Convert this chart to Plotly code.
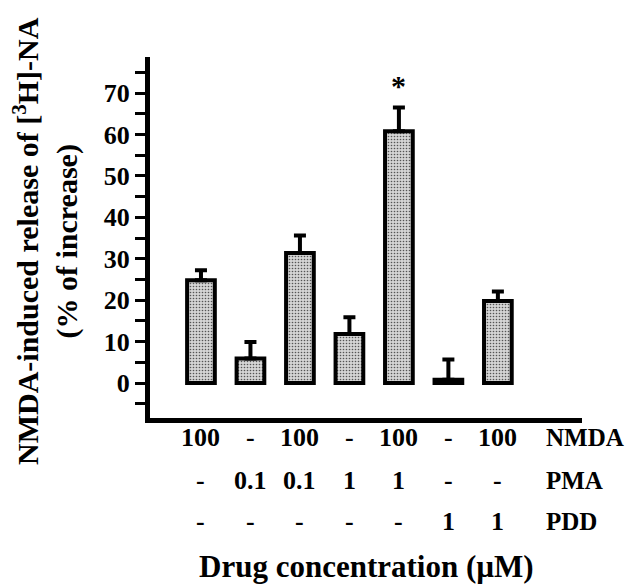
import plotly.graph_objects as go

# ---- data ----
groups = [0, 1, 2, 3, 4, 5, 6]
release = [24.8, 5.9, 31.4, 11.8, 60.8, 0.8, 19.8]
sem = [2.4, 4.0, 4.2, 4.1, 5.7, 4.9, 2.3]
nmda_row = ["100", "-", "100", "-", "100", "-", "100"]
pma_row = ["-", "0.1", "0.1", "1", "1", "-", "-"]
pdd_row = ["-", "-", "-", "-", "-", "1", "1"]
row_names = ["NMDA", "PMA", "PDD"]
signif = ["", "", "", "", "*", "", ""]

FONT = "Liberation Serif"

fig = go.Figure()
fig.add_trace(go.Bar(
    x=groups, y=release, width=0.56,
    marker=dict(color="#cfcfcf",
                line=dict(color="black", width=4),
                pattern=dict(shape=".", bgcolor="#d4d4d4", fgcolor="#555555",
                             size=3, solidity=0.24, fillmode="replace")),
    error_y=dict(type="data", array=sem, arrayminus=[0] * len(sem), symmetric=False,
                 color="black", thickness=4, width=6),
    showlegend=False,
))

annotations = []
rows = [nmda_row, pma_row, pdd_row]
row_y = [-0.055, -0.172, -0.288]
for vals, yp, name in zip(rows, row_y, row_names):
    for g, v in zip(groups, vals):
        annotations.append(dict(x=g, y=yp, xref="x", yref="paper", text=v, showarrow=False,
                                xanchor="center", yanchor="middle",
                                font=dict(family=FONT, size=26, color="black", weight="bold")))
    annotations.append(dict(x=6.93, y=yp, xref="x", yref="paper", text=name, showarrow=False,
                            xanchor="left", yanchor="middle",
                            font=dict(family=FONT, size=25, color="black", weight="bold")))

for g, s, v, e in zip(groups, signif, release, sem):
    if s:
        annotations.append(dict(x=g, y=v + e + 5.4, xref="x", yref="y", text=s, showarrow=False,
                                xanchor="center", yanchor="middle",
                                font=dict(family=FONT, size=30, color="black", weight="bold")))

annotations.append(dict(x=0.5, y=-0.41, xref="paper", yref="paper",
                        text="Drug concentration (µM)", showarrow=False,
                        xanchor="center", yanchor="middle",
                        font=dict(family=FONT, size=31, color="black", weight="bold")))
annotations.append(dict(x=-0.241, y=0.49, xref="paper", yref="paper",
                        text="NMDA-induced release of [<sup>3</sup>H]-NA<br>(% of increase)",
                        showarrow=False, textangle=-90, xanchor="center", yanchor="middle",
                        font=dict(family=FONT, size=30, color="black", weight="bold")))

# page body has an 8px default margin, so the figure is 8px smaller and shifted
fig.update_layout(
    width=632, height=579, autosize=False,
    margin=dict(l=142, r=58, t=49, b=169),
    paper_bgcolor="white", plot_bgcolor="white",
    xaxis=dict(range=[-1.03, 7.7], showline=True, linecolor="black", linewidth=5,
               showticklabels=False, ticks="", showgrid=False, zeroline=False, fixedrange=True),
    yaxis=dict(range=[-8.45, 78.7], showline=True, linecolor="black", linewidth=5,
               tick0=0, dtick=10, ticks="outside", ticklen=10, tickwidth=3, tickcolor="black",
               minor=dict(tick0=0, dtick=5, ticks="outside", ticklen=10, tickwidth=3,
                          tickcolor="black", showgrid=False),
               showgrid=False, zeroline=False,
               tickfont=dict(family=FONT, size=26, color="black", weight="bold")),
    annotations=annotations,
)

fig.write_html("out.html")
